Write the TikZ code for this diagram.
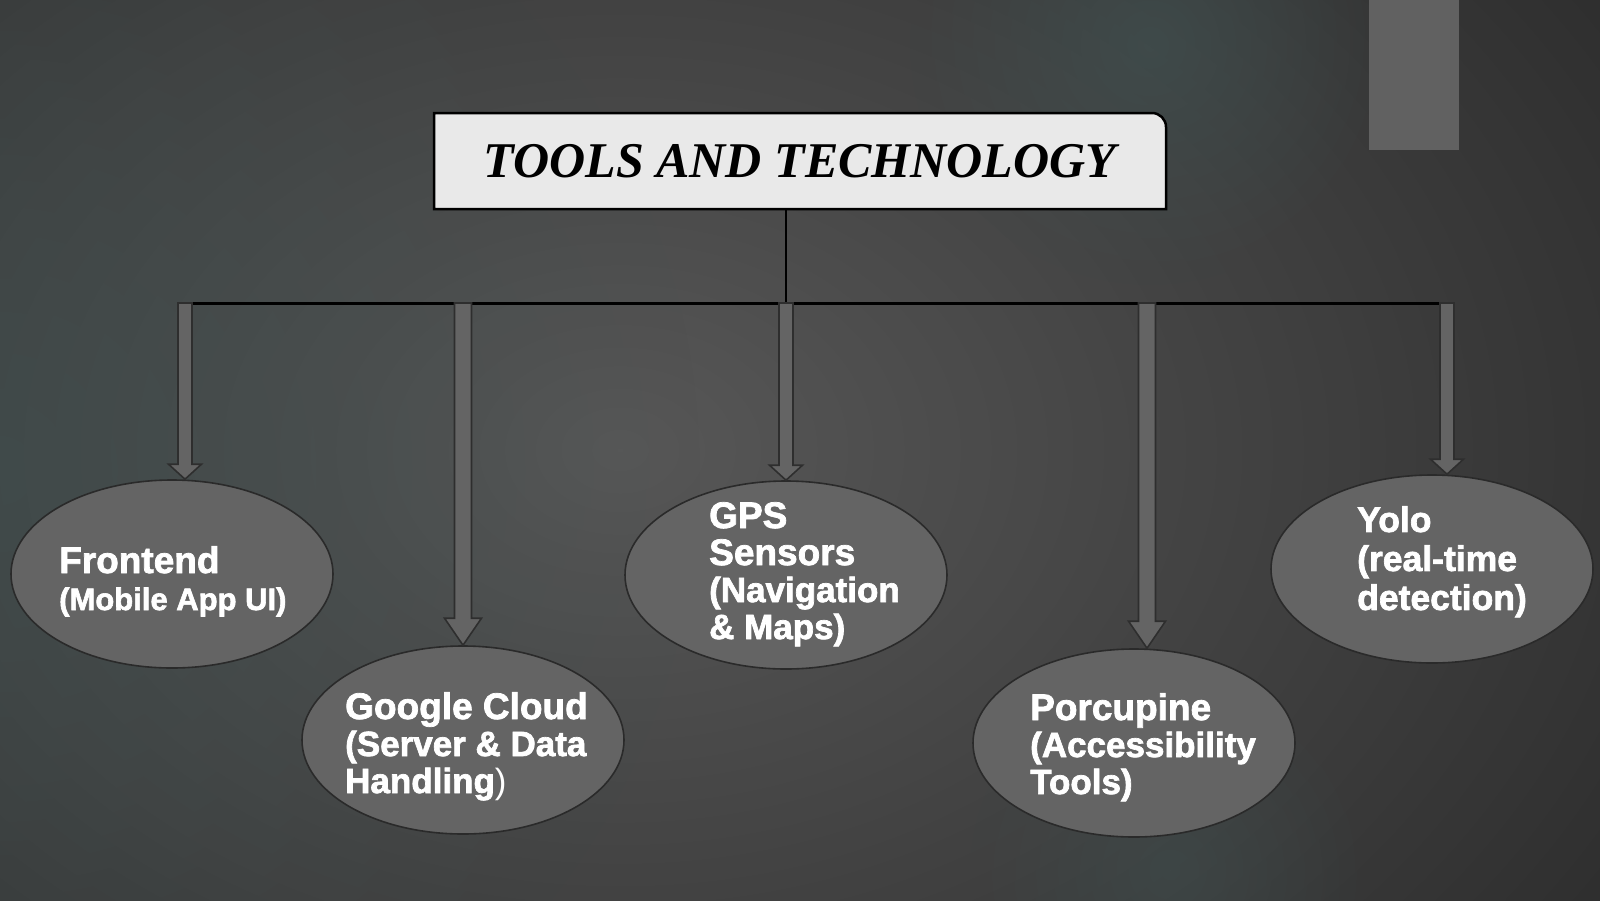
\documentclass[tikz,border=0pt]{standalone}
\usepackage{fontspec}
\setmainfont{Liberation Serif}
\setsansfont{Liberation Sans}
\newfontfamily\heavysans[FakeBold=2]{Liberation Sans Bold}
\usetikzlibrary{shapes.geometric,calc,fadings}
\definecolor{bgbase}{HTML}{2A2A2A}
\definecolor{bglight}{HTML}{585858}
\definecolor{bgteal}{HTML}{405050}
\definecolor{ovalfill}{HTML}{646464}
\definecolor{ovaledge}{HTML}{2A2A2A}
\definecolor{arrowfill}{HTML}{646464}
\definecolor{arrowedge}{HTML}{2E2E2E}
\definecolor{titlefill}{HTML}{E9E9E9}
\definecolor{tabgrey}{HTML}{616161}
\tikzfading[name=glowfade, inner color=transparent!0, outer color=transparent!100]
\newcommand{\ovalhead}{\fontsize{37}{37}\selectfont}

\begin{document}
\begin{tikzpicture}[
  x=1pt, y=1pt,
  oval/.style={ellipse, fill=ovalfill, draw=ovaledge, line width=1.6pt,
    minimum width=322pt, minimum height=188pt, inner sep=0pt},
  ovaltext/.style={anchor=north west, align=left, inner sep=0pt, text=white,
    font=\heavysans\fontsize{35}{37}\selectfont},
  blockarrow/.style n args={3}{fill=arrowfill, draw=arrowedge, line width=1.6pt,
    to path={let \p1=(\tikztostart), \p2=(\tikztotarget) in
      (\x1-#1*1pt,\y1) -- (\x1-#1*1pt,\y2+#3*1pt) -- (\x1-#2*1pt,\y2+#3*1pt)
      -- (\x1,\y2) -- (\x1+#2*1pt,\y2+#3*1pt) -- (\x1+#1*1pt,\y2+#3*1pt)
      -- (\x1+#1*1pt,\y1) -- cycle}},
  bus/.style={line width=3pt, black},
]
\useasboundingbox (0,0) rectangle (1600,-900);
% background with soft glows
\begin{scope}
  \clip (0,0) rectangle (1600,-900);
  \fill[bgbase] (-5,5) rectangle (1605,-905);
  \fill[bglight, path fading=glowfade] (620,-450) ellipse [x radius=1300pt, y radius=950pt];
  \fill[bgteal, path fading=glowfade, opacity=.6] (0,-470) circle (700pt);
  \fill[bgteal, path fading=glowfade, opacity=.7] (1150,-45) circle (240pt);
  \fill[bgteal, path fading=glowfade, opacity=.5] (1170,-870) circle (200pt);
\end{scope}
\fill[tabgrey] (1369,0) rectangle (1459,-150);

% title box, top right corner rounded
\filldraw[fill=titlefill, draw=black, line width=2.5pt]
  (434,-209) -- (434,-113) [rounded corners=14pt] -- (1166,-113)
  [sharp corners] -- (1166,-209) -- cycle;
\node[font=\bfseries\itshape\fontsize{50}{50}\selectfont, minimum width=732pt,
  minimum height=96pt, inner sep=0pt] (title) at (800,-161) {TOOLS AND TECHNOLOGY};

% ovals
\node[oval] (front) at (172,-574) {};
\node[oval] (cloud) at (463,-740) {};
\node[oval] (gps) at (786,-575) {};
\node[oval] (porc) at (1134,-743) {};
\node[oval] (yolo) at (1432,-569) {};

\node[ovaltext] (fronttext) at (59,-546)
  {{\ovalhead Frontend}\\{\fontsize{31}{31}\selectfont(Mobile App UI)}};
\node[ovaltext] (cloudtext) at (345,-692)
  {{\ovalhead Google Cloud}\\(Server \& Data\\Handling{\sffamily\mdseries)}};
\node[ovaltext] (gpstext) at (709,-502)
  {{\ovalhead GPS}\\{\ovalhead Sensors}\\(Navigation\\\& Maps)};
\node[ovaltext] (porctext) at (1030,-693)
  {{\ovalhead Porcupine}\\(Accessibility\\Tools)};
\node[ovaltext, font=\heavysans\fontsize{35.5}{39}\selectfont] (yolotext)
  at (1357,-506) {Yolo\\(real-time\\detection)};

% bus
\coordinate (busL) at (185,-303);
\coordinate (busR) at (1449,-303);
\draw[bus] (busL) -- (busR);
\draw[line width=2.5pt] (title.south -| gps) -- (gps |- busL);

% block arrows down to the ovals
\foreach \nm/\xx/\sw/\hw/\hl in {front/185/7/16.5/15, cloud/463/8.5/18.5/27,
    gps/786/7/16.5/15, porc/1147/8.5/18.5/27, yolo/1447/7/16.5/15} {
  \coordinate (top\nm) at (\xx,-303);
  \draw[blockarrow={\sw}{\hw}{\hl}] (top\nm) to (top\nm |- \nm.north);
}
\end{tikzpicture}
\end{document}
